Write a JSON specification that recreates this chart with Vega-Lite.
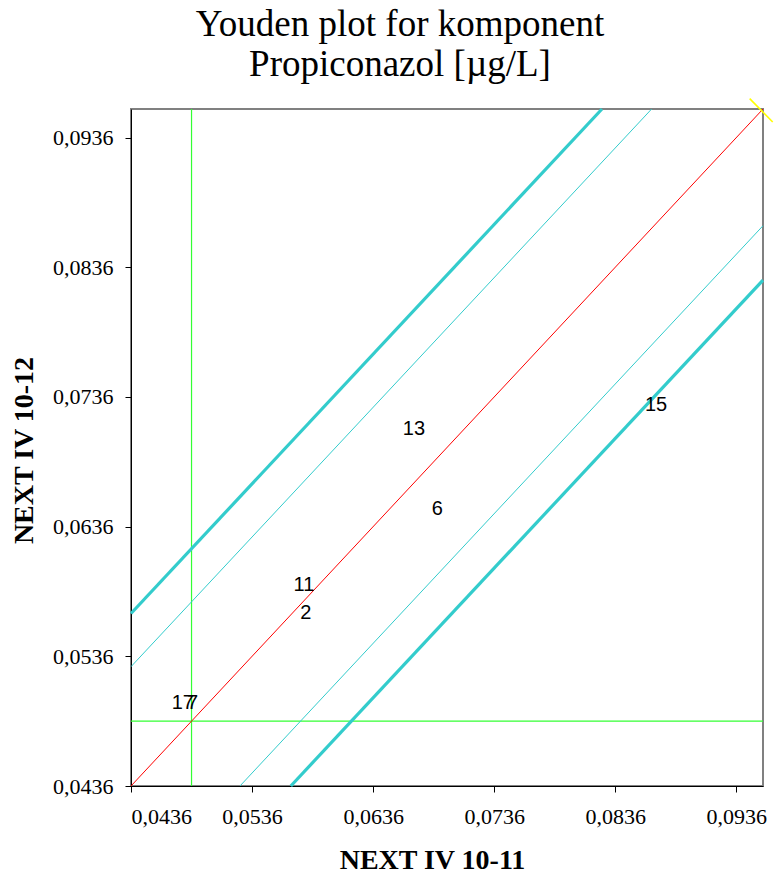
{
  "$schema": "https://vega.github.io/schema/vega-lite/v6.json",
  "autosize": "none",
  "width": 632,
  "height": 677,
  "padding": {"left": 131, "top": 109, "right": 12, "bottom": 95},
  "background": "white",
  "config": {
    "view": {"stroke": "#808080", "strokeWidth": 2},
    "axis": {
      "grid": false,
      "domainColor": "black",
      "tickColor": "black",
      "tickSize": 6,
      "labelFont": "Liberation Serif",
      "labelFontSize": 22,
      "labelColor": "black",
      "titleFont": "Liberation Serif",
      "titleFontSize": 28,
      "titleFontWeight": "bold",
      "titleColor": "black"
    }
  },
  "title": {
    "text": ["Youden plot for komponent", "Propiconazol [µg/L]"],
    "font": "Liberation Serif",
    "fontSize": 37,
    "fontWeight": "normal",
    "color": "black",
    "lineHeight": 40,
    "anchor": "middle",
    "dx": -47,
    "offset": 11
  },
  "datasets": {
    "lines": [
      {"series": "median-x", "style": "median", "x": 0.0486, "y": 0.0436},
      {"series": "median-x", "style": "median", "x": 0.0486, "y": 0.0958},
      {"series": "median-y", "style": "median", "x": 0.0436, "y": 0.0486},
      {"series": "median-y", "style": "median", "x": 0.0958, "y": 0.0486},
      {"series": "diagonal", "style": "diagonal", "x": 0.0436, "y": 0.0436},
      {"series": "diagonal", "style": "diagonal", "x": 0.0958, "y": 0.0958},
      {"series": "upper-inner", "style": "inner", "x": 0.0436, "y": 0.0528},
      {"series": "upper-inner", "style": "inner", "x": 0.0866, "y": 0.0958},
      {"series": "lower-inner", "style": "inner", "x": 0.0526, "y": 0.0436},
      {"series": "lower-inner", "style": "inner", "x": 0.0958, "y": 0.0868},
      {"series": "upper-outer", "style": "outer", "x": 0.0436, "y": 0.0569},
      {"series": "upper-outer", "style": "outer", "x": 0.0825, "y": 0.0958},
      {"series": "lower-outer", "style": "outer", "x": 0.0568, "y": 0.0436},
      {"series": "lower-outer", "style": "outer", "x": 0.0958, "y": 0.0826},
      {"series": "corner", "style": "corner", "x": 0.0947, "y": 0.0966},
      {"series": "corner", "style": "corner", "x": 0.0966, "y": 0.0948}
    ],
    "labs": [
      {"lab": "17", "x": 0.04788, "y": 0.05001},
      {"lab": "7", "x": 0.04868, "y": 0.05001},
      {"lab": "11", "x": 0.05788, "y": 0.05906},
      {"lab": "2", "x": 0.05804, "y": 0.05697},
      {"lab": "13", "x": 0.06697, "y": 0.07111},
      {"lab": "6", "x": 0.06891, "y": 0.06497},
      {"lab": "15", "x": 0.08697, "y": 0.07297}
    ]
  },
  "encoding": {
    "x": {
      "field": "x",
      "type": "quantitative",
      "scale": {"domain": [0.0436, 0.0958], "nice": false, "zero": false},
      "axis": {
        "title": "NEXT IV 10-11",
        "values": [0.0436, 0.0536, 0.0636, 0.0736, 0.0836, 0.0936],
        "labelExpr": "replace(format(datum.value, '.4f'), '.', ',')",
        "labelPadding": 14,
        "titleX": 301,
        "titleY": 82,
        "titleBaseline": "alphabetic"
      }
    },
    "y": {
      "field": "y",
      "type": "quantitative",
      "scale": {"domain": [0.0436, 0.0958], "nice": false, "zero": false},
      "axis": {
        "title": "NEXT IV 10-12",
        "values": [0.0436, 0.0536, 0.0636, 0.0736, 0.0836, 0.0936],
        "labelExpr": "replace(format(datum.value, '.4f'), '.', ',')",
        "labelPadding": 12,
        "titleX": -107,
        "titleY": 341,
        "titleAngle": -90,
        "titleAlign": "center",
        "titleBaseline": "middle"
      }
    }
  },
  "layer": [
    {
      "data": {"name": "lines"},
      "transform": [{"filter": "datum.style === 'median'"}],
      "mark": {"type": "line", "color": "#33FF33", "strokeWidth": 1.2},
      "encoding": {"detail": {"field": "series"}}
    },
    {
      "data": {"name": "lines"},
      "transform": [{"filter": "datum.style === 'inner'"}],
      "mark": {"type": "line", "color": "#33CCCC", "strokeWidth": 1},
      "encoding": {"detail": {"field": "series"}}
    },
    {
      "data": {"name": "lines"},
      "transform": [{"filter": "datum.style === 'outer'"}],
      "mark": {"type": "line", "color": "#33CCCC", "strokeWidth": 3.2},
      "encoding": {"detail": {"field": "series"}}
    },
    {
      "data": {"name": "lines"},
      "transform": [{"filter": "datum.style === 'diagonal'"}],
      "mark": {"type": "line", "color": "#FF0000", "strokeWidth": 1},
      "encoding": {"detail": {"field": "series"}}
    },
    {
      "data": {"name": "lines"},
      "transform": [{"filter": "datum.style === 'corner'"}],
      "mark": {"type": "line", "color": "#FFFF00", "strokeWidth": 1.6, "clip": false},
      "encoding": {"detail": {"field": "series"}}
    },
    {
      "data": {"name": "labs"},
      "mark": {
        "type": "text",
        "font": "Liberation Sans",
        "fontSize": 20,
        "color": "black",
        "align": "center",
        "baseline": "middle"
      },
      "encoding": {
        "text": {"field": "lab"}
      }
    }
  ]
}
